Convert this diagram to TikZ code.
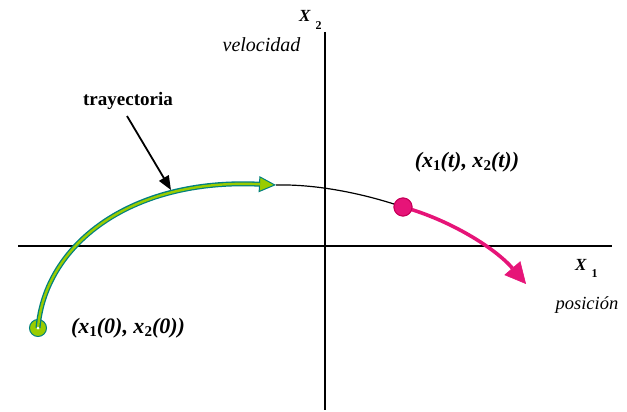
\documentclass[tikz,border=0pt]{standalone}
\usepackage{fontspec}
\setmainfont{Liberation Serif}
\usetikzlibrary{arrows.meta}
\definecolor{tealb}{RGB}{0,128,128}
\definecolor{lgreen}{RGB}{153,204,0}
\definecolor{dpink}{RGB}{230,20,120}
\definecolor{pinkb}{RGB}{200,0,90}
\newcommand\lsub[1]{\raisebox{-0.35ex}{\fontsize{15}{15}\selectfont\upshape #1}}
\newcommand\asub[1]{\raisebox{-0.9ex}{\fontsize{12}{12}\selectfont\bfseries\upshape #1}}
\tikzset{
  axis/.style={line width=1.6pt, black},
  lbl/.style={font=\fontsize{22}{22}\selectfont\bfseries\itshape, inner sep=0pt},
  albl/.style={font=\fontsize{17}{17}\selectfont\bfseries\itshape, inner sep=0pt},
  ilbl/.style={font=\fontsize{20}{20}\selectfont\itshape, inner sep=0pt},
  greenline/.style={line width=5pt, tealb, -{Triangle[length=17pt,width=16pt,fill=lgreen,line width=1pt]}},
  greeninner/.style={line width=2.4pt, lgreen, shorten >=16pt},
  pinkline/.style={line width=3.6pt, dpink, -{Triangle[length=21pt,width=21pt,fill=dpink,line width=0.6pt]}},
  dot/.style={circle, inner sep=0pt, line width=1pt}
}
\begin{document}
\begin{tikzpicture}[x=1pt,y=-1pt]
\useasboundingbox (0,0) rectangle (627,412);
% axes
\coordinate (hl) at (18,246);
\coordinate (hr) at (612,246);
\coordinate (vt) at (325,32);
\coordinate (vb) at (325,410);
\draw[axis] (hl) -- (hr);
\draw[axis] (vt) -- (vb);
% points
\node[dot, draw=tealb, fill=lgreen, minimum size=17pt] (p0) at (38,328) {};
\node[dot, draw=pinkb, fill=dpink, minimum size=18pt] (pt) at (403,207) {};
\coordinate (e1) at (276,185);
\coordinate (e2) at (526,284);
% black curve
\draw[line width=1.2pt] (e1) .. controls (320,184) and (368,195) .. (pt.center);
% green curve
\draw[greenline] (p0.center) .. controls (45,245) and (130,178) .. (e1);
\draw[greeninner] (p0.center) .. controls (45,245) and (130,178) .. (e1);
\node[circle, fill=white, minimum size=3pt, inner sep=0pt] at (p0.center) {};
% pink curve
\draw[pinkline] (pt.center) .. controls (450,220) and (495,248) .. (e2);
\node[dot, draw=pinkb, fill=dpink, minimum size=18pt] at (pt.center) {};
% labels
\node[font=\fontsize{19}{19}\selectfont\bfseries, inner sep=0pt] (tr) at (128,101) {trayectoria};
\coordinate (ta) at (127,116);
\coordinate (tb) at (171,190);
\draw[line width=1.8pt, -{Triangle[length=14pt,width=11pt]}] (ta) -- (tb);
\node[lbl] (lt) at (467,162) {(x\lsub{1}(t), x\lsub{2}(t))};
\node[lbl] (l0) at (128,328) {(x\lsub{1}(0), x\lsub{2}(0))};
\node[albl, anchor=base west] (x2) at (299,22) {X\hspace{5pt}\asub{2}};
\node[ilbl] (vel) at (261.5,45) {velocidad};
\node[albl, anchor=base west] (x1) at (575,270) {X\hspace{5pt}\asub{1}};
\node[font=\fontsize{18.5}{18.5}\selectfont\itshape, inner sep=0pt] (pos) at (587,305) {posición};
\end{tikzpicture}
\end{document}
